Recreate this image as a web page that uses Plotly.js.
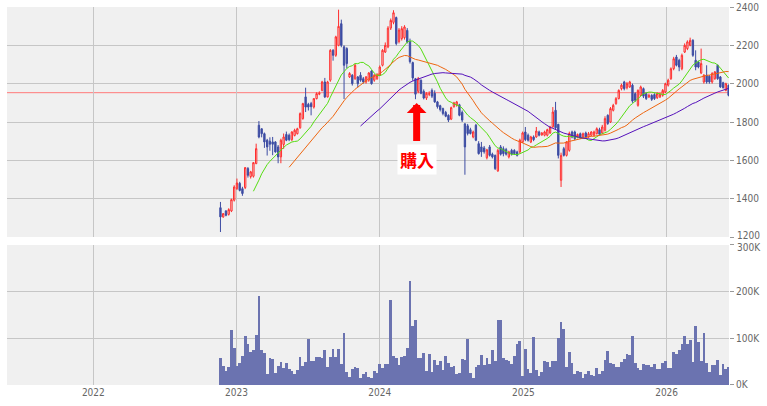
<!DOCTYPE html>
<html>
<head>
<meta charset="utf-8">
<script src="https://cdn.plot.ly/plotly-3.0.1.min.js"></script>
<style>html,body{margin:0;padding:0;background:#fff;}#chart{width:767px;height:406px;}</style>
</head>
<body>
<div id="chart"></div>
<script>
// Weekly bars, first week and tick labels
const firstWeek = '2022-11-21';
const yearTicks = ['2022-01-01','2023-01-01','2024-01-01','2025-01-01','2026-01-01'];
const yearLabels = ['2022','2023','2024','2025','2026'];
const priceTicks = [1200,1400,1600,1800,2000,2200,2400];
const priceLabels = ['1200','1400','1600','1800','2000','2200','2400'];
const volTicks = [0,100,200,300];
const volLabels = ['0K','100K','200K','300K'];
const buyLevel = 1953;
const buyDate = '2024-04-04';
const buyArrowTip = 1899;
const buyLabel = '購入';

const opens = [1353,1305,1336,1318,1336,1392,1453,1480,1452,1458,1557,1515,1517,1583,1783,1765,1739,1705,1700,1696,
1696,1670,1618,1683,1735,1731,1708,1730,1739,1770,1818,1931,1892,1896,1878,1922,1945,1965,2009,1931,
2018,2174,2148,2200,2313,2192,2183,2035,2044,2026,2035,2044,2026,2009,2018,2066,2018,2026,2044,2096,
2165,2192,2290,2320,2345,2220,2235,2240,2278,2220,2110,2026,1960,2018,1960,1925,1945,1965,1950,1905,
1885,1870,1850,1835,1815,1880,1890,1890,1850,1790,1780,1760,1722,1783,1687,1670,1665,1614,1670,1632,
1626,1545,1670,1661,1656,1618,1652,1652,1644,1644,1696,1748,1731,1696,1722,1722,1748,1733,1731,1731,
1743,1775,1861,1788,1496,1661,1626,1652,1748,1748,1722,1739,1722,1743,1722,1731,1731,1739,1760,1743,
1757,1835,1800,1861,1896,1922,1974,2009,1979,1983,1992,1948,1887,1939,1974,1948,1931,1939,1943,1927,
1931,1939,1957,1992,2026,2078,2139,2122,2078,2165,2183,2200,2226,2122,2113,2056,2009,2044,2039,2009,
2026,2096,2035,2005,1965,1992];
const highs = [1383,1325,1340,1350,1400,1470,1505,1488,1462,1565,1565,1545,1590,1687,1805,1765,1745,1712,1720,1722,
1700,1680,1713,1740,1750,1740,1752,1765,1770,1850,1900,1979,1900,1905,1925,1955,1960,2015,2030,2015,
2180,2180,2250,2386,2334,2200,2190,2060,2050,2105,2040,2060,2035,2040,2060,2070,2050,2055,2095,2180,
2215,2300,2340,2383,2350,2290,2300,2305,2290,2235,2115,2030,2035,2022,1970,1955,1960,1975,1965,1910,
1890,1875,1858,1840,1880,1905,1910,1895,1860,1795,1790,1770,1755,1790,1700,1696,1675,1660,1680,1640,
1630,1660,1680,1673,1665,1650,1660,1658,1650,1713,1750,1774,1740,1728,1730,1774,1755,1748,1755,1765,
1780,1878,1905,1790,1640,1670,1700,1750,1755,1755,1740,1745,1745,1750,1748,1752,1755,1772,1770,1785,
1830,1840,1878,1895,1930,1970,2000,2015,2009,2015,2000,1955,1970,1990,1980,1955,1948,1945,1950,1955,
1952,1972,2005,2026,2085,2140,2150,2130,2157,2210,2226,2240,2232,2174,2120,2183,2050,2096,2045,2060,
2066,2100,2040,2010,2005,1995];
const lows = [1226,1300,1308,1312,1330,1385,1445,1438,1415,1450,1510,1505,1510,1580,1715,1720,1665,1625,1650,1627,
1640,1585,1585,1660,1700,1700,1700,1725,1735,1765,1812,1852,1860,1835,1870,1918,1940,1960,1925,1928,
2010,2120,2140,2195,2190,1920,2080,2030,1990,2020,1980,2010,2000,2000,2010,1995,2010,2020,2040,2090,
2160,2185,2280,2310,2200,2210,2225,2230,2210,2105,2015,1919,1950,1945,1918,1915,1935,1925,1900,1870,
1855,1835,1825,1800,1810,1875,1880,1830,1800,1525,1730,1735,1715,1700,1630,1618,1635,1605,1620,1610,
1550,1540,1625,1621,1625,1610,1625,1628,1620,1635,1690,1700,1698,1690,1700,1718,1725,1728,1725,1725,
1738,1770,1760,1610,1461,1620,1620,1645,1715,1705,1715,1712,1715,1715,1718,1725,1725,1735,1730,1738,
1750,1785,1795,1855,1890,1918,1965,1965,1970,1978,1900,1905,1880,1935,1925,1915,1925,1910,1915,1920,
1925,1932,1950,1985,2020,2070,2090,2065,2070,2160,2175,2195,2140,2070,2080,2050,2000,2000,2000,2000,
2020,2020,1978,1975,1960,1934];
const closes = [1305,1322,1313,1343,1395,1461,1482,1443,1427,1562,1522,1540,1588,1661,1722,1739,1696,1670,1684,1684,
1644,1618,1705,1722,1705,1708,1748,1757,1765,1844,1896,1878,1878,1880,1922,1948,1950,2009,1931,2009,
2174,2148,2244,2299,2200,2096,2105,2053,2000,2096,2000,2018,2009,2035,2056,2000,2044,2044,2087,2174,
2200,2290,2330,2370,2209,2280,2287,2296,2218,2115,2030,1945,2026,1950,1925,1950,1947,1935,1905,1880,
1865,1845,1830,1810,1875,1900,1905,1835,1810,1670,1740,1740,1748,1705,1635,1644,1645,1655,1626,1618,
1557,1652,1632,1635,1632,1644,1632,1635,1626,1705,1743,1708,1705,1722,1708,1753,1731,1742,1748,1760,
1774,1852,1770,1626,1626,1626,1696,1740,1722,1713,1735,1718,1739,1722,1739,1748,1748,1765,1736,1774,
1818,1792,1870,1887,1922,1965,1992,1974,2000,2009,1909,1913,1965,1983,1935,1922,1939,1918,1922,1948,
1945,1965,2000,2018,2078,2130,2096,2087,2148,2200,2218,2226,2148,2087,2087,2105,2044,2009,2009,2053,
2061,2026,1983,1979,2000,1939];
// volume in thousands of shares
const volumesK = [58,41,29,39,118,80,41,48,62,105,88,71,75,107,191,74,68,24,58,55,
26,41,49,37,47,34,29,24,32,59,41,49,99,52,51,61,59,58,74,39,
61,78,59,78,45,111,28,18,34,39,37,16,24,28,18,15,29,26,44,36,
44,45,182,62,58,43,61,62,80,223,127,140,57,57,68,29,67,28,54,43,
52,32,62,48,38,41,24,26,55,54,99,26,16,38,43,65,43,57,45,75,
52,140,140,57,54,52,45,62,88,94,19,78,35,25,102,32,19,28,52,50,
39,52,52,101,135,120,39,71,48,24,29,28,16,24,29,21,19,37,24,31,
54,73,48,45,39,39,49,55,67,64,105,48,37,32,45,43,42,39,44,35,
34,47,52,37,37,71,67,75,88,105,88,97,49,127,92,52,111,47,28,43,
42,54,22,45,34,38];

const maSpecs = [{n:13,color:'#55dd11'},{n:26,color:'#ee6610'},{n:52,color:'#5511bb'}];

function weekDates(start, count){
  const out=[]; const d0=new Date(start+'T00:00:00Z');
  for(let i=0;i<count;i++){ const d=new Date(d0.getTime()+i*7*86400000); out.push(d.toISOString().slice(0,10)); }
  return out;
}
function sma(arr,n){
  return arr.map((v,i)=>{ if(i<n-1) return null; let s=0; for(let k=i-n+1;k<=i;k++) s+=arr[k]; return s/n; });
}
const dates = weekDates(firstWeek, closes.length);

const traces = [];
traces.push({
  type:'candlestick', x:dates, open:opens, high:highs, low:lows, close:closes,
  xaxis:'x', yaxis:'y',
  increasing:{line:{color:'#ff2d2d',width:1}, fillcolor:'rgba(0,0,0,0)'},
  decreasing:{line:{color:'#3d4ca3',width:1}, fillcolor:'#3d4ca3'},
  whiskerwidth:0, hoverinfo:'skip'
});
maSpecs.forEach(m=>{
  traces.push({type:'scatter', mode:'lines', x:dates, y:sma(closes,m.n), xaxis:'x', yaxis:'y',
    line:{color:m.color,width:1}, hoverinfo:'skip', connectgaps:false});
});
traces.push({type:'bar', x:dates, y:volumesK, xaxis:'x2', yaxis:'y2',
  marker:{color:'#6b73b0', line:{width:0}}, hoverinfo:'skip'});

const xRange = ['2021-05-26','2026-06-09'];
const gridC = '#c6c6c6';
const axFont = {family:'DejaVu Sans Condensed, DejaVu Sans Mono, monospace', size:10, color:'#666'};

// the two labels where the panels meet sit a little apart so they do not collide
const priceText = priceLabels.map((t,i)=> i===0 ? '' : t);
const volText = volLabels.map((t,i)=> i===volLabels.length-1 ? '' : t);

const layout = {
  width:767, height:406,
  margin:{l:7,r:38,t:7,b:21,pad:0},
  paper_bgcolor:'#ffffff', plot_bgcolor:'#f0f0f0',
  showlegend:false, bargap:0, font:axFont,
  xaxis:{type:'date', range:xRange, anchor:'y', domain:[0,1], rangeslider:{visible:false},
    tickvals:yearTicks, ticktext:yearLabels, showticklabels:false, showgrid:true, gridcolor:gridC, gridwidth:1,
    zeroline:false, ticks:'', showline:false, fixedrange:true},
  xaxis2:{type:'date', range:xRange, anchor:'y2', domain:[0,1], matches:'x',
    tickvals:yearTicks, ticktext:yearLabels, showticklabels:true, showgrid:true, gridcolor:gridC, gridwidth:1,
    zeroline:false, ticks:'', showline:false, tickfont:axFont, fixedrange:true},
  yaxis:{domain:[0.3915,1], anchor:'x', side:'right', range:[1200,2400], tickvals:priceTicks, ticktext:priceText,
    ticks:'outside', ticklen:4, tickcolor:'#999', showgrid:true, gridcolor:gridC, gridwidth:1,
    zeroline:false, showline:false, tickfont:axFont, fixedrange:true},
  yaxis2:{domain:[0,0.3704], anchor:'x2', side:'right', range:[0,300], tickvals:volTicks, ticktext:volText,
    ticks:'outside', ticklen:4, tickcolor:'#999', showgrid:true, gridcolor:gridC, gridwidth:1,
    zeroline:false, showline:false, tickfont:axFont, fixedrange:true},
  shapes:[{type:'line', xref:'paper', x0:0, x1:1, yref:'y', y0:buyLevel, y1:buyLevel,
    line:{color:'#ff7b7b', width:1}, layer:'between'}],
  annotations:[
    {x:buyDate, y:buyArrowTip, xref:'x', yref:'y', text:'<b>'+buyLabel+'</b>',
    showarrow:true, arrowhead:1, arrowsize:0.47, arrowwidth:7, arrowcolor:'#ff0000',
    ax:0, ay:56, startstandoff:3, standoff:0,
    font:{family:'Noto Sans CJK JP', size:17, color:'#ff0000'}, bgcolor:'#ffffff', borderpad:2},
    {xref:'paper', x:1, xanchor:'left', xshift:6, yref:'y', y:priceTicks[0], yanchor:'middle', yshift:2,
     text:priceLabels[0], showarrow:false, font:axFont},
    {xref:'paper', x:1, xanchor:'left', xshift:6, yref:'y2', y:volTicks[volTicks.length-1], yanchor:'middle', yshift:-3,
     text:volLabels[volLabels.length-1], showarrow:false, font:axFont}
  ]
};

Plotly.newPlot('chart', traces, layout, {displayModeBar:false, staticPlot:true});
</script>
</body>
</html>
